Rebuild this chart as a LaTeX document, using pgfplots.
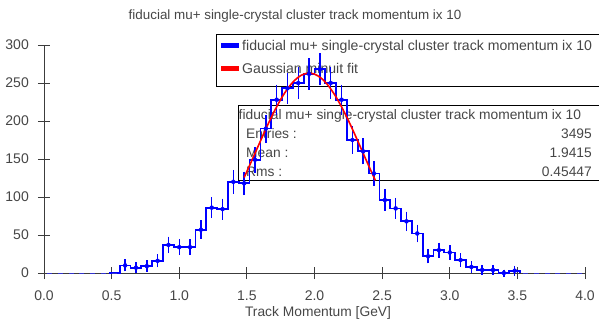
\documentclass[border=0pt]{standalone}
\usepackage{fontspec}
\setmainfont{Liberation Sans}
\usepackage{pgfplots}
\usepackage{pgfplotstable}
\pgfplotsset{compat=1.18}

\definecolor{axisgray}{RGB}{60,60,60}
\definecolor{textgray}{RGB}{70,70,70}
\definecolor{histblue}{RGB}{0,0,255}
\definecolor{fitred}{RGB}{255,0,0}

% filled part of the histogram: bin low edge, bin centre, entries, statistical error
\pgfplotstableread{
lo   mid  n   err
0.48 nan  0   0
0.56 0.60 10  3.2
0.64 0.68 7   2.6
0.72 0.76 9   3.0
0.80 0.84 16  4.0
0.88 0.92 37  6.1
0.96 1.00 34  5.8
1.04 1.08 34  5.8
1.12 1.16 57  7.5
1.20 1.24 86  9.3
1.28 1.32 84  9.2
1.36 1.40 120 11.0
1.44 1.48 118 10.9
1.52 1.56 149 12.2
1.60 1.64 190 13.8
1.68 1.72 228 15.1
1.76 1.80 243 15.6
1.84 1.88 250 15.8
1.92 1.96 262 16.2
2.00 2.04 268 16.4
2.08 2.12 250 15.8
2.16 2.20 228 15.1
2.24 2.28 175 13.2
2.32 2.36 160 12.6
2.40 2.44 131 11.4
2.48 2.52 96  9.8
2.56 2.60 85  9.2
2.64 2.68 68  8.2
2.72 2.76 52  7.2
2.80 2.84 22  4.7
2.88 2.92 30  5.5
2.96 3.00 27  5.2
3.04 3.08 17  4.1
3.12 3.16 8   2.8
3.20 3.24 4   2.0
3.28 3.32 4   2.0
3.36 3.40 0   0
3.44 3.48 3   1.7
3.52 nan  0   0
}\histdata

% empty bins (centres)
\pgfplotstableread{
mid  n
0.04 0
0.12 0
0.20 0
0.28 0
0.36 0
0.44 0
0.52 0
3.56 0
3.64 0
3.72 0
3.80 0
3.88 0
3.96 0
}\emptybins

\begin{document}
\begin{tikzpicture}
% frames, legend and statistics (drawn first so the histogram lies over them)
\begin{scope}[x=1pt,y=-1pt,shift={(-44pt,273pt)},
  txt/.style={inner sep=0pt, text height=9.6pt, text depth=0pt, text=textgray,
              font=\fontsize{13.8}{16}\selectfont}]
  \node[txt, font=\fontsize{13.4}{16}\selectfont] at (295,15)
    {fiducial mu+ single-crystal cluster track momentum ix 10};
  \node[txt] at (318,312) {Track Momentum [GeV]};
  % legend box
  \draw[black, line width=0.9pt] (610,34) -- (216,34) -- (216,86) -- (610,86);
  \fill[histblue] (221,43.5) rectangle (239,48.5);
  \fill[fitred]   (221,66) rectangle (239,71);
  \node[txt, anchor=west, font=\fontsize{14.1}{16}\selectfont] at (242,46)
    {fiducial mu+ single-crystal cluster track momentum ix 10};
  \node[txt, anchor=west, font=\fontsize{14.1}{16}\selectfont] at (242,69)
    {Gaussian minuit fit};
  % statistics box
  \draw[black, line width=0.9pt] (610,105) -- (238,105) -- (238,180) -- (610,180);
  \begin{scope}[every node/.append style={font=\fontsize{14.1}{16}\selectfont}]
    \node[txt, anchor=west] at (238.5,115)
      {fiducial mu+ single-crystal cluster track momentum ix 10};
    \node[txt, anchor=west] at (246,134) {Entries :};
    \node[txt, anchor=west] at (246,153) {Mean :};
    \node[txt, anchor=west] at (246,172) {Rms :};
    \node[txt, anchor=east] at (592,134) {3495};
    \node[txt, anchor=east] at (592,153) {1.9415};
    \node[txt, anchor=east] at (592,172) {0.45447};
  \end{scope}
\end{scope}

\begin{axis}[
  at={(0,0)}, anchor=south west,
  scale only axis, width=541pt, height=228pt,
  xmin=0, xmax=4, ymin=0, ymax=300,
  clip=false,
  axis x line=bottom, axis y line=left,
  axis line style={-, draw=axisgray, line width=0.9pt},
  xtick={0,0.5,...,4}, ytick={0,50,...,300},
  minor tick num=0,
  tick align=center, major tick length=12pt,
  tick style={draw=axisgray, line width=0.9pt},
  /pgf/number format/assume math mode=true,
  every tick label/.append style={inner sep=0pt, text height=9.8pt, text depth=0pt,
    text=textgray, font=\fontsize{14}{16}\selectfont},
  xticklabel style={anchor=center, yshift=-17pt,
    /pgf/number format/.cd, fixed, fixed zerofill, precision=1},
  yticklabel style={anchor=east, xshift=-9pt},
  scaled ticks=false,
]
  % histogram outline
  \addplot[histblue, line width=1.8pt, const plot mark left, mark=none]
    table[x=lo, y=n] {\histdata};
  % error bars at the bin centres
  \addplot[histblue, only marks, mark=none,
    error bars/.cd, y dir=both, y explicit,
    error mark=-, error mark options={histblue, mark size=3.5pt, line width=1.5pt},
    error bar style={histblue, line width=1.5pt}]
    table[x=mid, y=n, y error=err] {\histdata};
  % empty bins
  \addplot[histblue!60!gray, only marks, mark=-, mark size=2.5pt,
    mark options={line width=1pt}]
    table[x=mid, y=n] {\emptybins};
  % Gaussian fit
  \addplot[fitred, line width=1.6pt, smooth] coordinates {
    (1.48,125.7) (1.55,153.4) (1.60,173.6) (1.65,193.3) (1.70,211.8)
    (1.75,228.3) (1.80,242.3) (1.85,253.0) (1.90,260.0) (1.95,263.0)
    (2.00,261.7) (2.05,256.3) (2.10,247.0) (2.15,234.3) (2.20,218.7)
    (2.25,200.9) (2.30,181.6) (2.35,161.5) (2.40,141.4) (2.45,121.8)
  };
\end{axis}

\begin{scope}[x=1pt,y=-1pt,shift={(-44pt,273pt)}]
  \pgfresetboundingbox
  \path[use as bounding box] (0,0) rectangle (599,324);
\end{scope}
\end{tikzpicture}
\end{document}
